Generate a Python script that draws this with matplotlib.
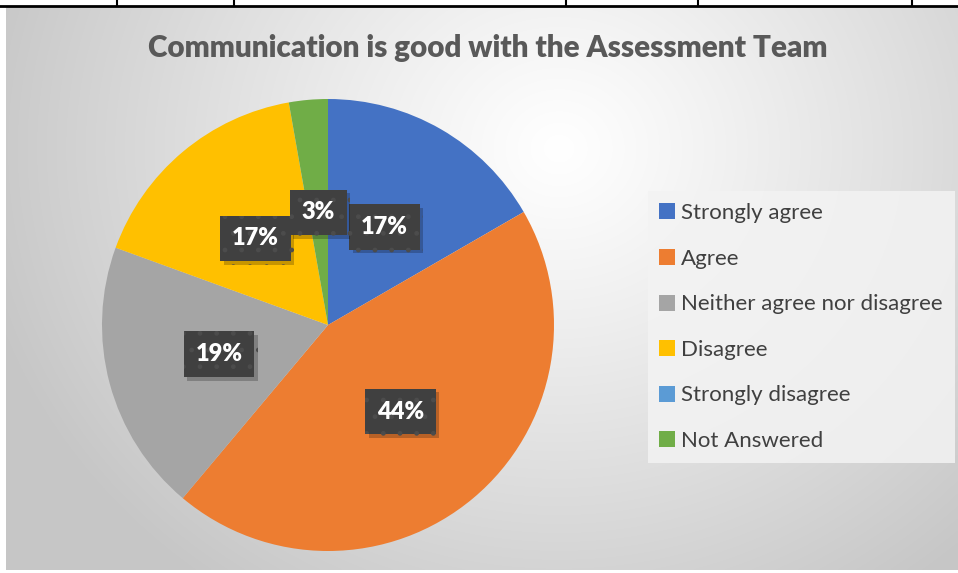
import numpy as np
import matplotlib
matplotlib.use("Agg")
import matplotlib.pyplot as plt
from matplotlib import patheffects as pe
from matplotlib.lines import Line2D

# Survey responses (counts)
categories = ["Strongly agree", "Agree", "Neither agree nor disagree",
              "Disagree", "Strongly disagree", "Not Answered"]
counts = [6, 16, 7, 6, 0, 1]
colors = ["#4472C4", "#ED7D31", "#A5A5A5", "#FFC000", "#5B9BD5", "#70AD47"]
title = "Communication is good with the Assessment Team"

W, H = 958, 573
fig = plt.figure(figsize=(W / 100, H / 100), dpi=100)
fig.patch.set_facecolor("white")

# Chart panel with radial gradient background
bg = fig.add_axes([6 / W, 3 / H, (W - 6) / W, (H - 3 - 7) / H])
bg.set_axis_off()
ny, nx = 300, 500
yy, xx = np.mgrid[0:ny, 0:nx]
cx, cy = 0.58 * nx, 0.25 * ny
r = np.sqrt(((xx - cx) / (0.62 * nx)) ** 2 + ((yy - cy) / (0.95 * ny)) ** 2)
r = np.clip(r, 0, 1)
shade = 1.0 - 0.22 * r ** 1.1
bg.imshow(np.dstack([shade] * 3), aspect="auto", extent=[0, 1, 0, 1],
          interpolation="bilinear")
bg.set_xlim(0, 1)
bg.set_ylim(0, 1)

# Table rules above the panel
rules = fig.add_axes([0, 0, 1, 1], facecolor="none")
rules.set_axis_off()
rules.set_xlim(0, W)
rules.set_ylim(H, 0)
rules.plot([0, W], [5.5, 5.5], color="black", lw=2)
for x in [117, 234, 566, 698, 912]:
    rules.plot([x, x], [0, 5.5], color="black", lw=1.5)

# Pie
cxp, cyp, rad = 328, 325, 226
ax = fig.add_axes([(cxp - rad) / W, (H - cyp - rad) / H, 2 * rad / W, 2 * rad / H])


def fmt(p):
    return f"{p:.0f}%" if p > 0.5 else ""


wedges, texts, autotexts = ax.pie(
    counts, colors=colors, startangle=90, counterclock=False,
    autopct=fmt, pctdistance=0.5, radius=1.0,
    wedgeprops=dict(linewidth=0),
    textprops=dict(color="white", fontsize=17, fontweight="heavy", family="Lato"),
)
ax.set_xlim(-1, 1)
ax.set_ylim(-1, 1)
ax.set_aspect("equal")
ax.set_axis_off()

for t in autotexts:
    if t.get_text():
        t.set_bbox(dict(boxstyle="square,pad=0.5", facecolor="#404040",
                        edgecolor="#4c4c4c", linewidth=0, hatch=".",
                        path_effects=[pe.SimplePatchShadow(offset=(2.5, -2.5),
                                                           shadow_rgbFace="#000000",
                                                           alpha=0.22),
                                      pe.Normal()]))

# Title
fig.text(487.5 / W, 1 - 48 / H, title, ha="center", va="center",
         fontsize=21.3, fontweight="heavy", color="#595959", family="Lato")

# Legend
handles = [Line2D([], [], marker="s", linestyle="none", markersize=11,
                  markerfacecolor=c, markeredgewidth=0) for c in colors]
leg = fig.legend(handles, categories, loc="upper left",
                 bbox_to_anchor=(648 / W, 1 - 191 / H),
                 frameon=True, prop=dict(family="Lato", size=16),
                 handlelength=0.6, handletextpad=0.35, labelspacing=1.15,
                 borderpad=0.55, borderaxespad=0)
frame = leg.get_frame()
frame.set_facecolor("#f3f3f3")
frame.set_alpha(0.85)
frame.set_edgecolor("none")
frame.set_boxstyle("square", pad=0)
for txt in leg.get_texts():
    txt.set_color("#404040")

fig.savefig("out.png", dpi=100, facecolor=fig.get_facecolor())
